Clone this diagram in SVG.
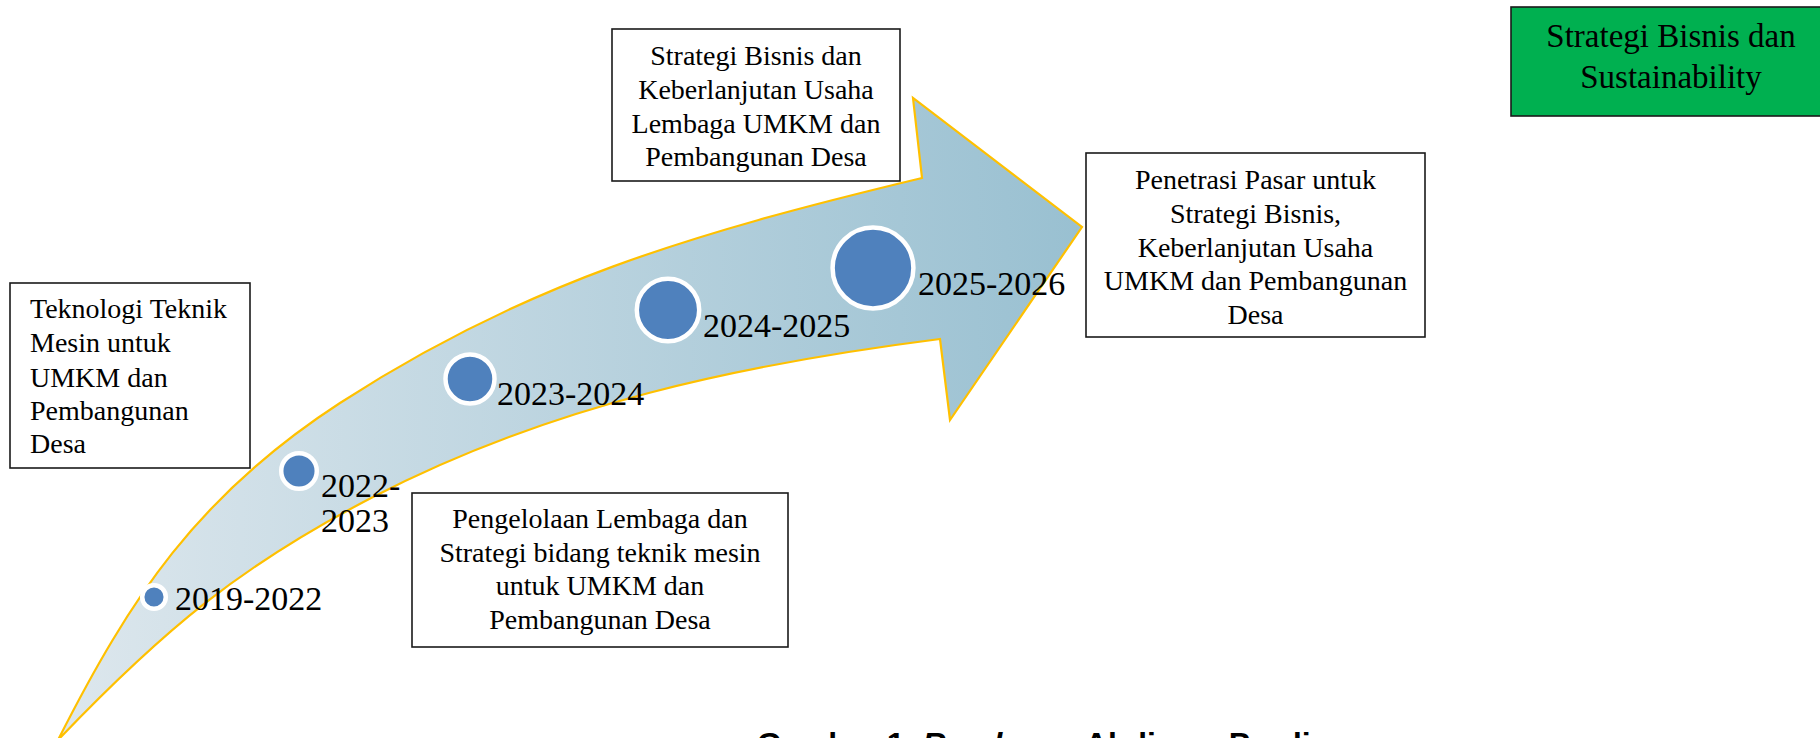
<svg xmlns="http://www.w3.org/2000/svg" width="1820" height="738" viewBox="0 0 1820 738">
<defs>
<linearGradient id="shaft" gradientUnits="userSpaceOnUse" x1="58" y1="0" x2="1082" y2="0">
<stop offset="0" stop-color="#DDE7ED"/>
<stop offset="1" stop-color="#99C0D1"/>
</linearGradient>
<style>
.box{fill:#FFFFFF;stroke:#1a1a1a;stroke-width:1.6}
.green{fill:#00B050;stroke:#1a1a1a;stroke-width:1.6}
.t{font-family:"Liberation Serif","Times New Roman",serif;font-size:28px;fill:#000}
.c{text-anchor:middle}
.g{font-size:33px}
.yr{font-family:"Liberation Serif","Times New Roman",serif;font-size:34px;fill:#000}
.dot{fill:#4F81BD;stroke:#FFFFFF;stroke-width:4.5}
.cap{font-family:"Liberation Sans",Arial,sans-serif;font-size:32px;font-weight:bold;fill:#000}
</style>
</defs>

<g id="timeline-arrow">
<path fill="url(#shaft)" stroke="#FFC000" stroke-width="2.2" stroke-linejoin="miter" d="M58,740 C130,598 197.4,495.5 340,403 C524.6,283.3 688.6,234 922,178 L913,98 L1082,227 L950,420 L940,339 C741.6,364.2 550.6,405 373,497 C239.8,566 163.2,630 58,740 Z"/>
</g>

<g id="connectors"></g>

<g id="m2019">
<circle class="dot" cx="154" cy="597" r="11.8"/>
<text class="yr" x="175" y="610">2019-2022</text>
</g>
<g id="m2022">
<circle class="dot" cx="299" cy="471" r="17.8"/>
<text class="yr" x="321" y="497">2022-</text>
<text class="yr" x="321" y="532">2023</text>
</g>
<g id="m2023">
<circle class="dot" cx="470" cy="379" r="24.5"/>
<text class="yr" x="497" y="405">2023-2024</text>
</g>
<g id="m2024">
<circle class="dot" cx="668" cy="310" r="31.2"/>
<text class="yr" x="703" y="337">2024-2025</text>
</g>
<g id="m2025">
<circle class="dot" cx="873" cy="268" r="40.4"/>
<text class="yr" x="918" y="295">2025-2026</text>
</g>

<g id="box-teknologi">
<rect class="box" x="10" y="283" width="240" height="185"/>
<text class="t" x="30" y="318">Teknologi Teknik</text>
<text class="t" x="30" y="352">Mesin untuk</text>
<text class="t" x="30" y="387">UMKM dan</text>
<text class="t" x="30" y="420">Pembangunan</text>
<text class="t" x="30" y="453">Desa</text>
</g>

<g id="box-pengelolaan">
<rect class="box" x="412" y="493" width="376" height="154"/>
<text class="t c" x="600" y="528">Pengelolaan Lembaga dan</text>
<text class="t c" x="600" y="562">Strategi bidang teknik mesin</text>
<text class="t c" x="600" y="595">untuk UMKM dan</text>
<text class="t c" x="600" y="629">Pembangunan Desa</text>
</g>

<g id="box-strategi">
<rect class="box" x="612" y="29" width="288" height="152"/>
<text class="t c" x="756" y="65">Strategi Bisnis dan</text>
<text class="t c" x="756" y="99">Keberlanjutan Usaha</text>
<text class="t c" x="756" y="133">Lembaga UMKM dan</text>
<text class="t c" x="756" y="166">Pembangunan Desa</text>
</g>

<g id="box-penetrasi">
<rect class="box" x="1086" y="153" width="339" height="184"/>
<text class="t c" x="1255.5" y="189">Penetrasi Pasar untuk</text>
<text class="t c" x="1255.5" y="223">Strategi Bisnis,</text>
<text class="t c" x="1255.5" y="257">Keberlanjutan Usaha</text>
<text class="t c" x="1255.5" y="290">UMKM dan Pembangunan</text>
<text class="t c" x="1255.5" y="324">Desa</text>
</g>

<g id="box-sustainability">
<rect class="green" x="1511" y="7" width="320" height="109"/>
<text class="t g c" x="1671" y="47">Strategi Bisnis dan</text>
<text class="t g c" x="1671" y="88">Sustainability</text>
</g>

<g id="caption">
<text class="cap" x="757" y="755">Gambar 1.  <tspan font-style="italic">Road map</tspan> Abdimas Prodi</text>
</g>
</svg>
